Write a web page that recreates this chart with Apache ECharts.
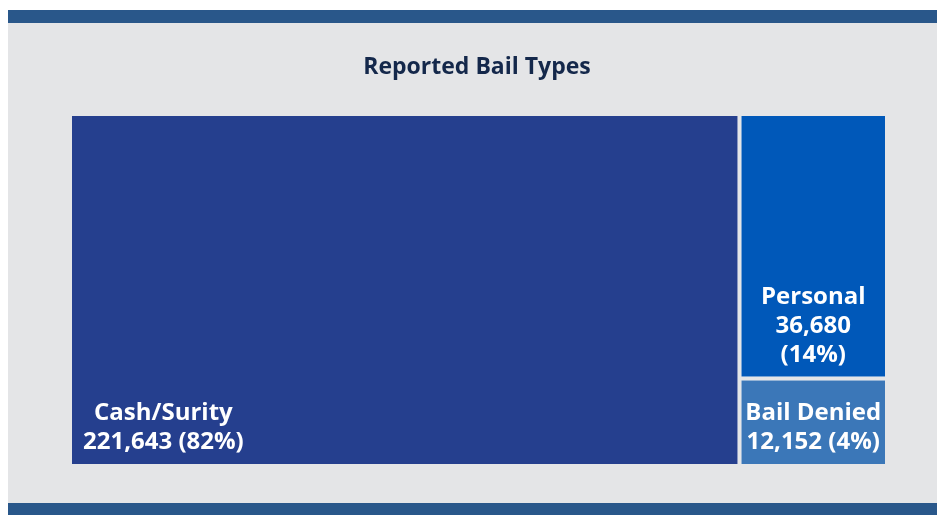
<!DOCTYPE html>
<html>
<head>
<meta charset="utf-8">
<script src="https://cdn.jsdelivr.net/npm/echarts@6/dist/echarts.min.js"></script>
<style>
  html, body { margin: 0; padding: 0; background: #ffffff; }
  #chart { width: 937px; height: 515px; }
</style>
</head>
<body>
<div id="chart"></div>
<script>
const bailTypes = ['Cash/Surity', 'Personal', 'Bail Denied']
const bailCounts = [221643, 36680, 12152]
const bailColors = ['#253f8e', '#0058b9', '#3b77b8']

const total = bailCounts.reduce((a, b) => a + b, 0)

const FONT = 'Open Sans'
const FONT_SIZE = 24
const LINE_H = 29
const PAD_BOTTOM = 7

function fmt(n) {
  return n.toLocaleString('en-US')
}

// label lines for a cell; the narrow Personal cell wraps its percent
function labelLines(name, value) {
  const pct = '(' + Math.round(value / total * 100) + '%)'
  if (name === 'Personal') return [name, fmt(value), pct]
  return [name, fmt(value) + ' ' + pct]
}

const measureCtx = document.createElement('canvas').getContext('2d')
measureCtx.font = 'bold ' + FONT_SIZE + 'px "' + FONT + '"'
function textWidth(s) {
  return measureCtx.measureText(s).width
}

const chart = echarts.init(document.getElementById('chart'), null, { renderer: 'canvas' })

function buildData(layouts) {
  return bailTypes.map((name, i) => {
    const item = {
      name: name,
      value: bailCounts[i],
      itemStyle: { color: bailColors[i] }
    }
    const lay = layouts && layouts[name]
    if (lay) {
      const lines = labelLines(name, bailCounts[i])
      const padTop = Math.max(lay.height - lines.length * LINE_H - PAD_BOTTOM, 0)
      let padL = 0
      let padR = 0
      if (name === 'Cash/Surity') {
        // block sits at the lower left, lines centred on each other
        const blockW = Math.max.apply(null, lines.map(textWidth)) + 2
        padL = 10
        padR = Math.max(lay.width - padL - blockW, 0)
      }
      item.label = { padding: [padTop, padR, PAD_BOTTOM, padL] }
    }
    return item
  })
}

function makeOption(layouts) {
  return {
    animation: false,
    backgroundColor: '#ffffff',
    graphic: [
      { type: 'rect', shape: { x: 8, y: 10, width: 929, height: 505 }, style: { fill: '#e4e5e7' }, z: -10 },
      { type: 'rect', shape: { x: 8, y: 10, width: 929, height: 13 }, style: { fill: '#29578a' }, z: -9 },
      { type: 'rect', shape: { x: 8, y: 503, width: 929, height: 12 }, style: { fill: '#29578a' }, z: -9 }
    ],
    title: {
      text: 'Reported Bail Types',
      left: 472,
      top: 51,
      textAlign: 'center',
      textStyle: {
        fontFamily: FONT,
        fontWeight: 'bold',
        fontSize: 23,
        color: '#14284b'
      }
    },
    tooltip: { show: false },
    series: [
      {
        type: 'treemap',
        left: 72,
        top: 116,
        width: 813,
        height: 348,
        roam: false,
        nodeClick: false,
        breadcrumb: { show: false },
        levels: [
          { itemStyle: { gapWidth: 4, borderWidth: 0, borderColor: '#e4e5e7' } }
        ],
        itemStyle: { borderWidth: 0 },
        emphasis: { disabled: true },
        label: {
          show: true,
          overflow: 'none',
          fontFamily: FONT,
          fontWeight: 'bold',
          fontSize: FONT_SIZE,
          lineHeight: LINE_H,
          color: '#ffffff',
          formatter: function (p) {
            return labelLines(p.name, p.value).map(s => '{c|' + s + '}').join('\n')
          },
          rich: {
            c: {
              align: 'center',
              fontFamily: FONT,
              fontWeight: 'bold',
              fontSize: FONT_SIZE,
              lineHeight: LINE_H,
              color: '#ffffff'
            }
          }
        },
        data: buildData(null)
      }
    ]
  }
}

chart.setOption(makeOption(null))

// read the cell sizes the treemap produced, then place labels at the cell bottoms
const tree = chart.getModel().getSeriesByIndex(0).getData().tree
const layouts = {}
tree.root.children.forEach(node => {
  const l = node.getLayout()
  layouts[node.name] = { width: l.width, height: l.height }
})
chart.setOption({ series: [{ data: buildData(layouts) }] })
</script>
</body>
</html>
